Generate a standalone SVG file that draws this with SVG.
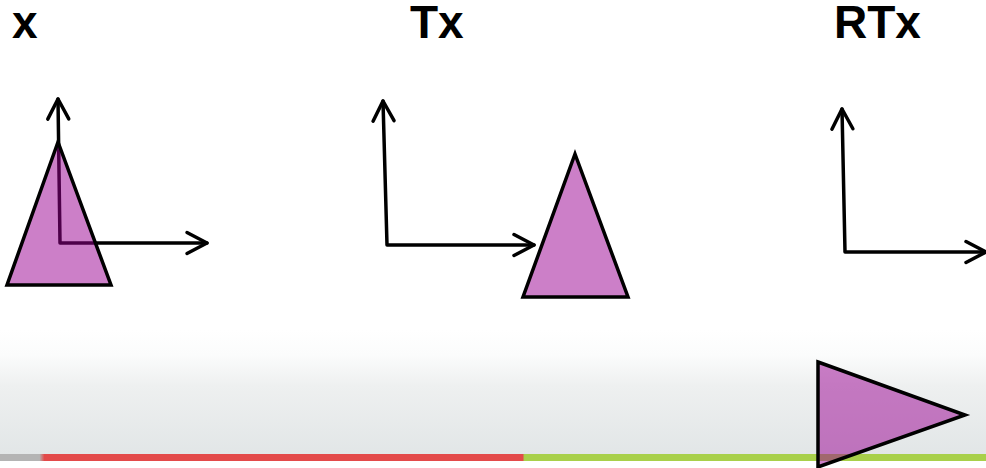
<svg xmlns="http://www.w3.org/2000/svg" width="986" height="468" viewBox="0 0 986 468">
<style>
.lbl{font-family:"Liberation Sans",Arial,sans-serif;font-weight:bold;font-size:46px;fill:#000}
.axis{fill:none;stroke:#000;stroke-width:3.5;stroke-linecap:round;stroke-linejoin:round}
.tri{fill:#990092;fill-opacity:0.5;stroke:#000;stroke-width:3.5;stroke-linejoin:miter}
</style>
<defs>
<linearGradient id="bg" x1="0" y1="0" x2="0" y2="1">
<stop offset="0" stop-color="#ffffff"/>
<stop offset="0.2" stop-color="#fbfcfc"/>
<stop offset="0.45" stop-color="#eef0f0"/>
<stop offset="1" stop-color="#e2e6e7"/>
</linearGradient>
<linearGradient id="bar" x1="0" y1="0" x2="986" y2="0" gradientUnits="userSpaceOnUse">
<stop offset="0" stop-color="#b4b4b4"/>
<stop offset="0.04" stop-color="#b4b4b4"/>
<stop offset="0.045" stop-color="#e34a4a"/>
<stop offset="0.53" stop-color="#e34a4a"/>
<stop offset="0.532" stop-color="#a8d04a"/>
<stop offset="1" stop-color="#a8d04a"/>
</linearGradient>
<marker id="arr" markerUnits="userSpaceOnUse" viewBox="-24 -13 28 26" markerWidth="28" markerHeight="26" refX="0" refY="0" orient="auto-start-reverse" overflow="visible">
<path d="M-20,-10.5 L0,0 L-20,10.5" fill="none" stroke="#000" stroke-width="3.5" stroke-linecap="round" stroke-linejoin="round"/>
</marker>
</defs>
<rect x="0" y="0" width="986" height="468" fill="#ffffff"/>
<rect x="0" y="330" width="986" height="124" fill="url(#bg)"/>
<rect x="0" y="454" width="986" height="7" fill="url(#bar)"/>
<g id="panel-x">
<text class="lbl" x="12" y="38">x</text>
<g id="axes-x"><path class="axis" d="M58,99 L60,243 L207,243" marker-start="url(#arr)" marker-end="url(#arr)"/></g>
<polygon id="tri-x" class="tri" points="58,142 111,285 7,285"/>
</g>
<g id="panel-Tx">
<text class="lbl" x="410" y="38">Tx</text>
<g id="axes-Tx"><path class="axis" d="M383,101 L387,245 L534,245" marker-start="url(#arr)" marker-end="url(#arr)"/></g>
<polygon id="tri-Tx" class="tri" points="575,154 628,297 523,297"/>
</g>
<g id="panel-RTx">
<text class="lbl" x="834" y="38">RTx</text>
<g id="axes-RTx"><path class="axis" d="M842,109 L845,252 L986,252" marker-start="url(#arr)" marker-end="url(#arr)"/></g>
<polygon id="tri-RTx" class="tri" points="818,362 965,415 818,467"/>
</g>
</svg>
